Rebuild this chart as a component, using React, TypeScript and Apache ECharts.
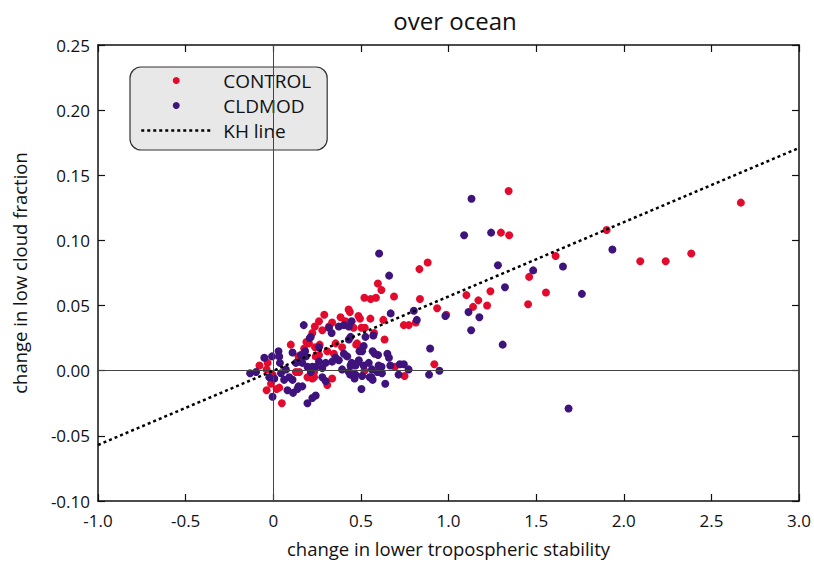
import React, { useEffect, useRef } from "react";
import * as echarts from "echarts";

const TITLE = "over ocean";
const X_NAME = "change in lower tropospheric stability";
const Y_NAME = "change in low cloud fraction";
const SERIES_NAMES = ["CONTROL", "CLDMOD", "KH line"];

const CONTROL: [number, number][] = [
  [2.668, 0.129], [2.094, 0.084], [2.239, 0.084], [2.385, 0.09], [1.902, 0.108],
  [1.343, 0.138], [1.299, 0.106], [1.346, 0.104], [1.611, 0.088], [1.46, 0.072],
  [1.239, 0.061], [1.102, 0.058], [1.17, 0.054], [1.14, 0.049], [1.22, 0.05],
  [1.556, 0.06], [1.454, 0.051], [0.987, 0.043], [0.935, 0.048], [0.881, 0.083],
  [0.834, 0.078], [0.597, 0.067], [0.617, 0.062], [0.52, 0.056], [0.556, 0.055],
  [0.689, 0.057], [0.837, 0.055], [0.628, 0.039], [0.745, 0.035], [0.773, 0.035],
  [0.813, 0.037], [0.554, 0.04], [0.486, 0.042], [0.495, 0.04], [0.437, 0.045],
  [0.458, 0.033], [0.503, 0.033], [0.522, 0.033], [0.575, 0.029], [0.635, 0.024],
  [0.473, 0.02], [0.919, 0.005], [0.694, 0.003], [0.749, -0.004], [0.52, 0.0],
  [0.45, -0.002], [0.291, 0.043], [0.261, 0.038], [0.237, 0.034], [0.223, 0.029],
  [0.28, 0.031], [0.318, 0.034], [0.336, 0.037], [0.384, 0.041], [0.412, 0.038],
  [0.189, 0.022], [0.265, 0.02], [0.356, 0.021], [0.393, 0.018], [0.346, 0.013],
  [0.308, 0.015], [0.478, 0.021], [0.507, 0.018], [0.242, 0.011], [0.261, 0.012],
  [0.223, -0.006], [0.233, -0.001], [0.308, -0.011], [0.336, -0.006], [-0.079, 0.004],
  [-0.032, 0.006], [-0.038, 0.001], [-0.004, -0.003], [-0.013, -0.01], [0.1, 0.02],
  [0.144, 0.011], [0.148, 0.007], [0.176, 0.017], [0.204, 0.021], [0.238, 0.018],
  [0.034, -0.013], [-0.038, -0.015], [0.019, -0.014], [0.049, -0.025], [0.195, -0.005],
  [0.233, -0.005], [0.129, -0.001], [0.148, -0.001], [0.586, 0.056], [0.43, 0.047],
];

const CLDMOD: [number, number][] = [
  [1.131, 0.132], [1.089, 0.104], [1.243, 0.106], [1.935, 0.093], [1.282, 0.081],
  [1.483, 0.077], [1.653, 0.08], [1.322, 0.064], [1.761, 0.059], [1.114, 0.045],
  [1.176, 0.041], [0.982, 0.042], [1.129, 0.031], [1.309, 0.02], [0.948, 0.0],
  [1.685, -0.029], [0.604, 0.09], [0.661, 0.073], [0.802, 0.046], [0.67, 0.044],
  [0.819, 0.039], [0.447, 0.038], [0.526, 0.026], [0.571, 0.027], [0.516, 0.019],
  [0.507, 0.015], [0.567, 0.015], [0.598, 0.012], [0.651, 0.013], [0.66, 0.01],
  [0.668, 0.004], [0.895, 0.017], [0.889, -0.003], [0.722, 0.005], [0.745, 0.005],
  [0.772, 0.001], [0.715, -0.003], [0.601, 0.004], [0.618, 0.003], [0.563, 0.001],
  [0.594, -0.001], [0.62, -0.002], [0.55, -0.005], [0.507, -0.004], [0.464, -0.006],
  [0.639, -0.01], [0.503, -0.014], [0.439, -0.003], [0.469, 0.004], [0.447, 0.006],
  [0.488, 0.008], [0.579, 0.013], [0.174, 0.035], [0.208, 0.025], [0.318, 0.033],
  [0.374, 0.034], [0.403, 0.035], [0.431, 0.034], [0.333, 0.029], [0.441, 0.026],
  [0.431, 0.024], [0.261, 0.018], [0.492, 0.015], [0.403, 0.013], [0.422, 0.011],
  [0.182, 0.015], [0.186, 0.011], [0.356, 0.01], [0.374, 0.008], [0.336, 0.007],
  [0.299, 0.006], [0.261, 0.007], [0.223, 0.003], [0.28, 0.002], [0.441, 0.004],
  [0.478, 0.006], [0.516, 0.004], [0.545, 0.006], [0.393, 0.001], [0.431, -0.001],
  [0.469, -0.003], [0.56, -0.005], [0.28, -0.005], [0.299, -0.008], [0.166, -0.012],
  [0.223, -0.021], [0.567, -0.007], [-0.132, -0.002], [-0.098, -0.001], [-0.051, 0.01],
  [-0.007, 0.011], [0.03, 0.015], [0.034, 0.011], [0.038, 0.006], [0.006, -0.006],
  [-0.023, -0.005], [0.044, -0.002], [0.072, 0.001], [0.062, -0.007], [0.091, -0.005],
  [0.11, 0.014], [0.157, 0.012], [0.129, 0.006], [0.166, 0.006], [0.195, 0.003],
  [0.214, 0.026], [-0.004, -0.02], [0.081, -0.015], [0.113, -0.017], [0.144, -0.012],
  [0.138, -0.014], [0.195, -0.025], [0.242, -0.019], [0.11, -0.007], [0.214, -0.001],
  [0.242, 0.003],
];

const KH_X = [-1.0, 3.0];
const KH_Y = [-0.057, 0.171];

const X_MIN = -1.0, X_MAX = 3.0, X_STEP = 0.5;
const Y_MIN = -0.1, Y_MAX = 0.25, Y_STEP = 0.05;

const RED = "#e30b2d";
const PURPLE = "#3f137c";
const FONT = "'Open Sans', 'Noto Sans', sans-serif";

export default function App() {
  const ref = useRef<HTMLDivElement>(null);
  useEffect(() => {
    if (!ref.current) return;
    const chart = echarts.init(ref.current, null, { renderer: "svg" });
    const axisLine = { show: true, onZero: false, lineStyle: { color: "#111", width: 1.5 } };
    const tick = { show: true, inside: true, length: 7, lineStyle: { color: "#111", width: 1.2 } };
    chart.setOption({
      animation: false,
      backgroundColor: "#fff",
      textStyle: { fontFamily: FONT },
      title: {
        text: TITLE,
        left: 450,
        textAlign: "center",
        top: 3,
        textStyle: { fontFamily: FONT, fontSize: 24, fontWeight: "normal", color: "#111" },
      },
      legend: {
        orient: "vertical",
        left: 130,
        top: 67,
        data: [
          { name: SERIES_NAMES[0] },
          { name: SERIES_NAMES[1] },
          {
            name: SERIES_NAMES[2],
            itemStyle: { opacity: 0 },
            lineStyle: { color: "#000", width: 2.5, type: [3, 3] },
          },
        ],
        itemWidth: 70,
        itemHeight: 7,
        itemGap: 6,
        padding: [4, 16, 10, 10],
        backgroundColor: "#e8e8e8",
        borderColor: "#333",
        borderWidth: 1.2,
        borderRadius: 11,
        textStyle: { fontFamily: FONT, fontSize: 19, color: "#111", padding: [0, 0, 0, 7] },
        itemStyle: { borderWidth: 0 },
      },
      grid: { left: 98, right: 11, top: 45, bottom: 62, containLabel: false },
      xAxis: [
        {
          type: "value",
          min: X_MIN,
          max: X_MAX,
          interval: X_STEP,
          name: X_NAME,
          nameLocation: "middle",
          nameGap: 38,
          nameTextStyle: { fontFamily: FONT, fontSize: 18.5, color: "#111" },
          axisLine,
          axisTick: tick,
          splitLine: { show: false },
          axisLabel: {
            fontFamily: FONT,
            fontSize: 17,
            color: "#111",
            margin: 11,
            formatter: (v: number) => (Math.abs(v) < 1e-9 ? "0" : v.toFixed(1)),
          },
        },
        {
          type: "value",
          position: "top",
          min: X_MIN,
          max: X_MAX,
          interval: X_STEP,
          axisLine,
          axisTick: tick,
          axisLabel: { show: false },
          splitLine: { show: false },
        },
      ],
      yAxis: [
        {
          type: "value",
          min: Y_MIN,
          max: Y_MAX,
          interval: Y_STEP,
          name: Y_NAME,
          nameLocation: "middle",
          nameGap: 69,
          nameTextStyle: { fontFamily: FONT, fontSize: 18.5, color: "#111" },
          axisLine,
          axisTick: tick,
          splitLine: { show: false },
          axisLabel: {
            fontFamily: FONT,
            fontSize: 17,
            color: "#111",
            margin: 8,
            formatter: (v: number) => v.toFixed(2),
          },
        },
        {
          type: "value",
          position: "right",
          min: Y_MIN,
          max: Y_MAX,
          interval: Y_STEP,
          axisLine,
          axisTick: tick,
          axisLabel: { show: false },
          splitLine: { show: false },
        },
      ],
      series: [
        {
          name: "zero",
          type: "line",
          data: [],
          z: 1,
          silent: true,
          markLine: {
            silent: true,
            symbol: "none",
            label: { show: false },
            lineStyle: { color: "#444", width: 1, type: "solid" },
            data: [{ xAxis: 0 }, { yAxis: 0 }],
          },
        },
        {
          name: SERIES_NAMES[0],
          type: "scatter",
          data: CONTROL,
          symbol: "circle",
          symbolSize: 8,
          itemStyle: { color: RED, opacity: 1 },
          z: 3,
        },
        {
          name: SERIES_NAMES[1],
          type: "scatter",
          data: CLDMOD,
          symbol: "circle",
          symbolSize: 8,
          itemStyle: { color: PURPLE, opacity: 1 },
          z: 4,
        },
        {
          name: SERIES_NAMES[2],
          type: "line",
          data: KH_X.map((x, i) => [x, KH_Y[i]]),
          symbol: "none",
          showSymbol: false,
          lineStyle: { color: "#000", width: 2.5, type: [3, 3] },
          itemStyle: { color: "#000" },
          z: 5,
        },
      ],
    });
    return () => chart.dispose();
  }, []);
  return <div ref={ref} style={{ width: 814, height: 563, position: "absolute", left: 0, top: 0 }} />;
}
